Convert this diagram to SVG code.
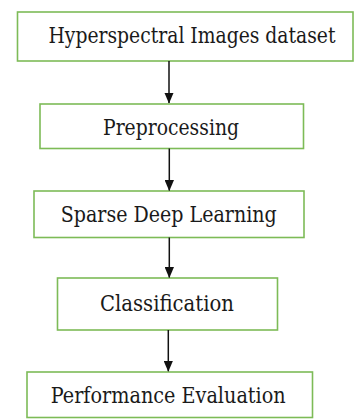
<svg xmlns="http://www.w3.org/2000/svg" width="355" height="419" viewBox="0 0 355 419">
<style>
.box{fill:#fff;stroke:#7DBB57;stroke-width:1.6}
.lbl{font-family:'DejaVu Serif',serif;font-size:22px;fill:#1a1a1a;text-anchor:middle}
.conn{stroke:#111;stroke-width:1.5;fill:none}
</style>
<defs>
<marker id="ah" markerUnits="userSpaceOnUse" markerWidth="11" markerHeight="9.4" refX="10.5" refY="4.7" orient="auto" viewBox="0 0 11 9.4">
<path d="M0,0 L11,4.7 L0,9.4 Z" fill="#111"/>
</marker>
</defs>
<rect x="0" y="0" width="355" height="419" fill="#fff"/>
<g id="n1"><rect class="box" x="17.5" y="12" width="335.5" height="49"/><text class="lbl" x="192" y="42.5" textLength="287" lengthAdjust="spacingAndGlyphs">Hyperspectral Images dataset</text></g>
<g id="n2"><rect class="box" x="40" y="104" width="263.5" height="44.5"/><text class="lbl" x="171" y="135" textLength="136" lengthAdjust="spacingAndGlyphs">Preprocessing</text></g>
<g id="n3"><rect class="box" x="34" y="191" width="270" height="46.5"/><text class="lbl" x="168.7" y="221.7" textLength="216" lengthAdjust="spacingAndGlyphs">Sparse Deep Learning</text></g>
<g id="n4"><rect class="box" x="57.5" y="278" width="220" height="52"/><text class="lbl" x="167" y="310.7" textLength="134" lengthAdjust="spacingAndGlyphs">Classification</text></g>
<g id="n5"><rect class="box" x="27" y="372" width="285.5" height="45.5"/><text class="lbl" x="168.2" y="402.7" textLength="235" lengthAdjust="spacingAndGlyphs">Performance Evaluation</text></g>
<g id="connectors">
<line class="conn" x1="169" y1="61" x2="169" y2="103" marker-end="url(#ah)"/>
<line class="conn" x1="169.3" y1="148.5" x2="169.3" y2="190.5" marker-end="url(#ah)"/>
<line class="conn" x1="169.3" y1="237.5" x2="169.3" y2="277.5" marker-end="url(#ah)"/>
<line class="conn" x1="168.3" y1="330" x2="168.3" y2="371.2" marker-end="url(#ah)"/>
</g>
</svg>
